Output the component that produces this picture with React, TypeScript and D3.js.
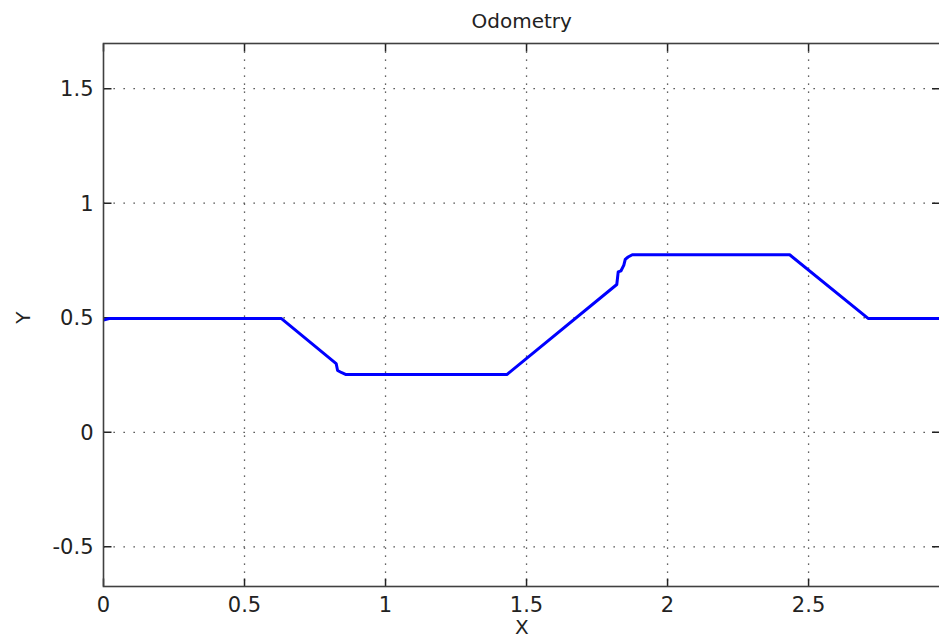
import * as d3 from "d3";
import { useEffect, useRef } from "react";

// odometry trace (x, y)
const xs = [0, 0.02, 0.63, 0.825, 0.83, 0.845, 0.86, 1.43, 1.82, 1.825, 1.835, 1.845, 1.85, 1.86, 1.875, 2.433, 2.711, 2.966];
const ys = [0.49, 0.497, 0.497, 0.3, 0.27, 0.26, 0.252, 0.252, 0.645, 0.7, 0.705, 0.73, 0.755, 0.765, 0.775, 0.775, 0.497, 0.497];

const xTicks = [0, 0.5, 1, 1.5, 2, 2.5];
const yTicks = [-0.5, 0, 0.5, 1, 1.5];
const title = "Odometry";
const xLabel = "X";
const yLabel = "Y";

const App = () => {
  const width = 939;
  const height = 639;
  const margin = { top: 43.5, bottom: 52.5, right: -1, left: 103.5 };
  const svgRef = useRef<SVGSVGElement>(null);

  useEffect(() => {
    if (!svgRef.current) return;
    const svg = d3.select(svgRef.current);
    svg.selectAll("*").remove();

    const plotWidth = width - margin.left - margin.right;
    const plotHeight = height - margin.top - margin.bottom;

    const x = d3.scaleLinear([0, 2.966], [0, plotWidth]);
    const y = d3.scaleLinear([-0.673, 1.697], [plotHeight, 0]);

    const font = "'DejaVu Sans', Arial, sans-serif";

    const plot = svg
      .append("g")
      .attr("transform", `translate(${margin.left}, ${margin.top})`);

    plot
      .append("rect")
      .attr("width", plotWidth)
      .attr("height", plotHeight)
      .attr("fill", "white");

    // dotted grid
    plot
      .append("g")
      .selectAll("line")
      .data(xTicks.filter((t) => t > 0))
      .join("line")
      .attr("x1", (d) => x(d))
      .attr("x2", (d) => x(d))
      .attr("y1", 0)
      .attr("y2", plotHeight)
      .attr("stroke", "#333")
      .attr("stroke-width", 1.3)
      .attr("stroke-dasharray", "1.3 6.7");

    plot
      .append("g")
      .selectAll("line")
      .data(yTicks)
      .join("line")
      .attr("x1", 0)
      .attr("x2", plotWidth)
      .attr("y1", (d) => y(d))
      .attr("y2", (d) => y(d))
      .attr("stroke", "#333")
      .attr("stroke-width", 1.3)
      .attr("stroke-dasharray", "1.3 8.7");

    // inward ticks
    plot
      .append("g")
      .selectAll("path")
      .data(xTicks)
      .join("path")
      .attr("d", (d) => `M${x(d)},0v8M${x(d)},${plotHeight}v-8`)
      .attr("stroke", "#222")
      .attr("stroke-width", 1.5);

    plot
      .append("g")
      .selectAll("path")
      .data(yTicks)
      .join("path")
      .attr("d", (d) => `M0,${y(d)}h8M${plotWidth},${y(d)}h-8`)
      .attr("stroke", "#222")
      .attr("stroke-width", 1.5);

    const line = d3
      .line<number>()
      .x((d) => x(d))
      .y((_, i) => y(ys[i]));

    plot
      .append("path")
      .datum(xs)
      .attr("d", line)
      .attr("fill", "none")
      .attr("stroke", "#0000ff")
      .attr("stroke-width", 3)
      .attr("stroke-linejoin", "round");

    plot
      .append("rect")
      .attr("width", plotWidth)
      .attr("height", plotHeight)
      .attr("fill", "none")
      .attr("stroke", "#404040")
      .attr("stroke-width", 1.6);

    // tick labels
    plot
      .append("g")
      .selectAll("text")
      .data(xTicks)
      .join("text")
      .attr("x", (d) => x(d))
      .attr("y", plotHeight + 25)
      .attr("text-anchor", "middle")
      .attr("font-family", font)
      .attr("font-size", 21)
      .attr("fill", "#222")
      .text((d) => String(d));

    plot
      .append("g")
      .selectAll("text")
      .data(yTicks)
      .join("text")
      .attr("x", -10)
      .attr("y", (d) => y(d) + 7.5)
      .attr("text-anchor", "end")
      .attr("font-family", font)
      .attr("font-size", 21)
      .attr("fill", "#222")
      .text((d) => String(d));

    svg
      .append("text")
      .attr("x", margin.left + plotWidth / 2)
      .attr("y", 28)
      .attr("text-anchor", "middle")
      .attr("font-family", font)
      .attr("font-size", 20)
      .attr("fill", "#222")
      .text(title);

    svg
      .append("text")
      .attr("x", margin.left + plotWidth / 2)
      .attr("y", 634)
      .attr("text-anchor", "middle")
      .attr("font-family", font)
      .attr("font-size", 20)
      .attr("fill", "#222")
      .text(xLabel);

    svg
      .append("text")
      .attr("transform", `translate(30, ${margin.top + y(0.5)}) rotate(-90)`)
      .attr("text-anchor", "middle")
      .attr("font-family", font)
      .attr("font-size", 20)
      .attr("fill", "#222")
      .text(yLabel);
  }, []);

  return (
    <svg
      width={width}
      height={height}
      ref={svgRef}
      style={{ position: "absolute", left: 0, top: 0, overflow: "hidden", background: "white" }}
    ></svg>
  );
};

export default App;
